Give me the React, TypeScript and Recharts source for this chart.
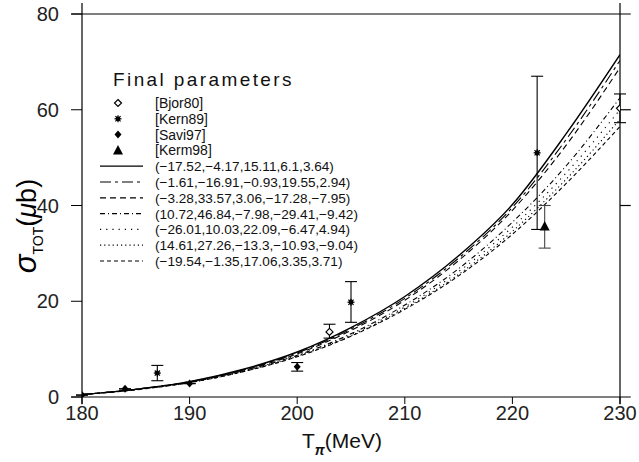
import {
    ComposedChart,
    Line,
    Scatter,
    XAxis,
    YAxis,
    ErrorBar,
    ReferenceLine,
    Legend,
} from "recharts"

const FONT = "'Liberation Sans', Arial, sans-serif"

// pion kinetic energy grid for the fit curves (MeV)
const energy = [180, 185, 190, 195, 200, 205, 210, 215, 220, 225, 230]

// total cross section of the seven fits (µb)
const fitA = [0.5, 1.6, 3.2, 5.8, 9.4, 14.5, 21.0, 29.5, 40.2, 55.0, 71.5]
const fitB = [0.5, 1.6, 3.2, 5.7, 9.2, 14.2, 20.6, 29.0, 39.6, 53.8, 70.3]
const fitC = [0.5, 1.6, 3.1, 5.6, 9.0, 13.9, 20.2, 28.5, 39.0, 52.6, 68.8]
const fitD = [0.5, 1.6, 3.1, 5.5, 8.7, 13.2, 19.2, 26.8, 36.5, 48.3, 62.5]
const fitE = [0.5, 1.6, 3.1, 5.4, 8.6, 13.0, 18.8, 26.2, 35.5, 46.8, 60.0]
const fitF = [0.5, 1.6, 3.0, 5.3, 8.5, 12.8, 18.5, 25.6, 34.6, 45.5, 58.0]
const fitG = [0.5, 1.5, 3.0, 5.3, 8.4, 12.7, 18.3, 25.3, 34.0, 44.6, 56.5]

const fitNames = [
    "(\u221217.52,\u22124.17,15.11,6.1,3.64)",
    "(\u22121.61,\u221216.91,\u22120.93,19.55,2.94)",
    "(\u22123.28,33.57,3.06,\u221217.28,\u22127.95)",
    "(10.72,46.84,\u22127.98,\u221229.41,\u22129.42)",
    "(\u221226.01,10.03,22.09,\u22126.47,4.94)",
    "(14.61,27.26,\u221213.3,\u221210.93,\u22129.04)",
    "(\u221219.54,\u22121.35,17.06,3.35,3.71)",
]
const fitDashes = ["", "11 4 3 4", "6 4", "5 3 1 3", "1.2 5", "1.2 3", "4 3"]
const fits = [fitA, fitB, fitC, fitD, fitE, fitF, fitG]

// measurements: energy, sigma, [minus, plus] errors
const bjorT = [203, 230]
const bjorS = [13.6, 60.3]
const bjorErr = [[1.3, 1.6], [3, 3]]

const kernT = [187, 205, 222.3]
const kernS = [5.0, 19.8, 51]
const kernErr = [[1.6, 1.6], [4.2, 4.3], [16, 16]]

const saviT = [180, 184, 190, 200]
const saviS = [0.4, 1.7, 2.8, 6.3]
const saviErr = [[0, 0], [0, 0], [0, 0], [0.9, 0.9]]

const kermT = [223]
const kermS = [35.6]
const kermErr = [[4.5, 4.4]]

const xTicks = [180, 190, 200, 210, 220, 230]
const yTicks = [0, 20, 40, 60, 80]

const curveData = energy.map((t, i) => {
    const row: Record<string, number> = { t }
    fits.forEach((f, k) => (row["f" + k] = f[i]))
    return row
})

const points = (ts: number[], ss: number[], es: number[][]) =>
    ts.map((t, i) => ({ t, s: ss[i], err: es[i] }))

const OpenDiamond = ({ cx, cy }: any) => (
    <polygon
        points={`${cx},${cy - 3.5} ${cx + 3.5},${cy} ${cx},${cy + 3.5} ${cx - 3.5},${cy}`}
        fill="#fff"
        stroke="#000"
        strokeWidth={1.2}
    />
)
const Star = ({ cx, cy }: any) => (
    <g stroke="#000" strokeWidth={1.2}>
        <line x1={cx - 3.5} y1={cy} x2={cx + 3.5} y2={cy} />
        <line x1={cx} y1={cy - 3.5} x2={cx} y2={cy + 3.5} />
        <line x1={cx - 2.6} y1={cy - 2.6} x2={cx + 2.6} y2={cy + 2.6} />
        <line x1={cx - 2.6} y1={cy + 2.6} x2={cx + 2.6} y2={cy - 2.6} />
        <circle cx={cx} cy={cy} r={1.8} fill="#000" />
    </g>
)
const FilledDiamond = ({ cx, cy }: any) => (
    <polygon
        points={`${cx},${cy - 4} ${cx + 3.5},${cy} ${cx},${cy + 4} ${cx - 3.5},${cy}`}
        fill="#000"
    />
)
const Triangle = ({ cx, cy }: any) => (
    <polygon
        points={`${cx},${cy - 5.5} ${cx + 5},${cy + 4} ${cx - 5},${cy + 4}`}
        fill="#000"
    />
)

const markerRows = [
    { name: "[Bjor80]", Shape: OpenDiamond },
    { name: "[Kern89]", Shape: Star },
    { name: "[Savi97]", Shape: FilledDiamond },
    { name: "[Kerm98]", Shape: Triangle },
]

// legend is drawn in its own svg, origin at page (95, 62)
const LegendBox = () => {
    const rowY = (k: number) => 41 + k * 15.8
    return (
        <svg width={280} height={210} style={{ overflow: "visible" }}>
            <text x={18} y={24} fontSize={19} letterSpacing={2.4} fill="#111" fontFamily={FONT}>
                Final parameters
            </text>
            {markerRows.map((r, k) => (
                <g key={r.name}>
                    <r.Shape cx={23} cy={rowY(k)} />
                    <text x={60} y={rowY(k) + 5} fontSize={14} fill="#111" fontFamily={FONT}>
                        {r.name}
                    </text>
                </g>
            ))}
            {fitNames.map((n, k) => (
                <g key={n}>
                    <line
                        x1={5}
                        x2={48}
                        y1={rowY(k + 4)}
                        y2={rowY(k + 4)}
                        stroke="#000"
                        strokeWidth={1.2}
                        strokeDasharray={fitDashes[k]}
                    />
                    <text x={60} y={rowY(k + 4) + 5} fontSize={13.6} fill="#111" fontFamily={FONT}>
                        {n}
                    </text>
                </g>
            ))}
        </svg>
    )
}

const YLabel = () => (
    <text
        x={36}
        y={226}
        transform="rotate(-90, 36, 226)"
        textAnchor="middle"
        fill="#000"
        fontFamily={FONT}
    >
        <tspan fontSize={31} fontStyle="italic">σ</tspan>
        <tspan fontSize={14} dy={7}>TOT</tspan>
        <tspan fontSize={27} dy={-7}>(</tspan>
        <tspan fontSize={27} fontStyle="italic">μ</tspan>
        <tspan fontSize={27}>b)</tspan>
    </text>
)

const XLabel = () => (
    <text x={342} y={448} textAnchor="middle" fill="#111" fontFamily={FONT}>
        <tspan fontSize={21}>T</tspan>
        <tspan fontSize={14} fontStyle="italic" fontWeight="bold" dy={7}>π</tspan>
        <tspan fontSize={21} dy={-7}>(MeV)</tspan>
    </text>
)

const frame = { stroke: "#000", strokeWidth: 1.2 }

export default function App() {
    return (
        <div style={{ position: "absolute", left: 0, top: 0, background: "#fff" }}>
            <ComposedChart
                width={639}
                height={462}
                data={curveData}
                margin={{ top: 14, right: 19, bottom: 25, left: 0 }}
            >
                <XAxis
                    type="number"
                    dataKey="t"
                    domain={[180, 230]}
                    ticks={xTicks}
                    axisLine={false}
                    tickLine={{ stroke: "#000" }}
                    tickSize={7}
                    tick={{ fontSize: 20, fill: "#222", fontFamily: FONT }}
                    height={40}
                    allowDataOverflow
                    label={{ content: XLabel }}
                />
                <YAxis
                    type="number"
                    domain={[0, 80]}
                    ticks={yTicks}
                    axisLine={false}
                    tickLine={{ stroke: "#000" }}
                    tickSize={11}
                    tickMargin={12}
                    tick={{ fontSize: 20, fill: "#222", fontFamily: FONT }}
                    width={82}
                    allowDataOverflow
                    label={{ content: YLabel }}
                />

                <ReferenceLine segment={[{ x: 179, y: 80 }, { x: 231, y: 80 }]} ifOverflow="visible" {...frame} />
                <ReferenceLine segment={[{ x: 179, y: 0 }, { x: 231, y: 0 }]} ifOverflow="visible" {...frame} />
                <ReferenceLine segment={[{ x: 180, y: -1.5 }, { x: 180, y: 82.3 }]} ifOverflow="visible" {...frame} />
                <ReferenceLine segment={[{ x: 230, y: -1.5 }, { x: 230, y: 82.3 }]} ifOverflow="visible" {...frame} />
                <ReferenceLine segment={[{ x: 230, y: 60 }, { x: 231, y: 60 }]} ifOverflow="visible" {...frame} />
                <ReferenceLine segment={[{ x: 230, y: 40 }, { x: 231, y: 40 }]} ifOverflow="visible" {...frame} />

                {fitNames.map((n, k) => (
                    <Line
                        key={n}
                        type="monotone"
                        dataKey={"f" + k}
                        name={n}
                        stroke="#000"
                        strokeWidth={k === 0 ? 1.4 : 1.1}
                        strokeDasharray={fitDashes[k]}
                        dot={false}
                        activeDot={false}
                        isAnimationActive={false}
                    />
                ))}

                <Scatter data={points(bjorT, bjorS, bjorErr)} dataKey="s" name="[Bjor80]" shape={OpenDiamond} isAnimationActive={false}>
                    <ErrorBar dataKey="err" direction="y" width={6} stroke="#000" strokeWidth={1.1} />
                </Scatter>
                <Scatter data={points(kernT, kernS, kernErr)} dataKey="s" name="[Kern89]" shape={Star} isAnimationActive={false}>
                    <ErrorBar dataKey="err" direction="y" width={6} stroke="#000" strokeWidth={1.1} />
                </Scatter>
                <Scatter data={points(saviT, saviS, saviErr)} dataKey="s" name="[Savi97]" shape={FilledDiamond} isAnimationActive={false}>
                    <ErrorBar dataKey="err" direction="y" width={6} stroke="#000" strokeWidth={1.1} />
                </Scatter>
                <Scatter data={points(kermT, kermS, kermErr)} dataKey="s" name="[Kerm98]" shape={Triangle} isAnimationActive={false}>
                    <ErrorBar dataKey="err" direction="y" width={6} stroke="#444" strokeWidth={1.1} />
                </Scatter>

                <Legend
                    layout="vertical"
                    align="center"
                    verticalAlign="middle"
                    content={LegendBox}
                    wrapperStyle={{ left: 95, top: 62, width: 280, height: 210 }}
                />
            </ComposedChart>
        </div>
    )
}
